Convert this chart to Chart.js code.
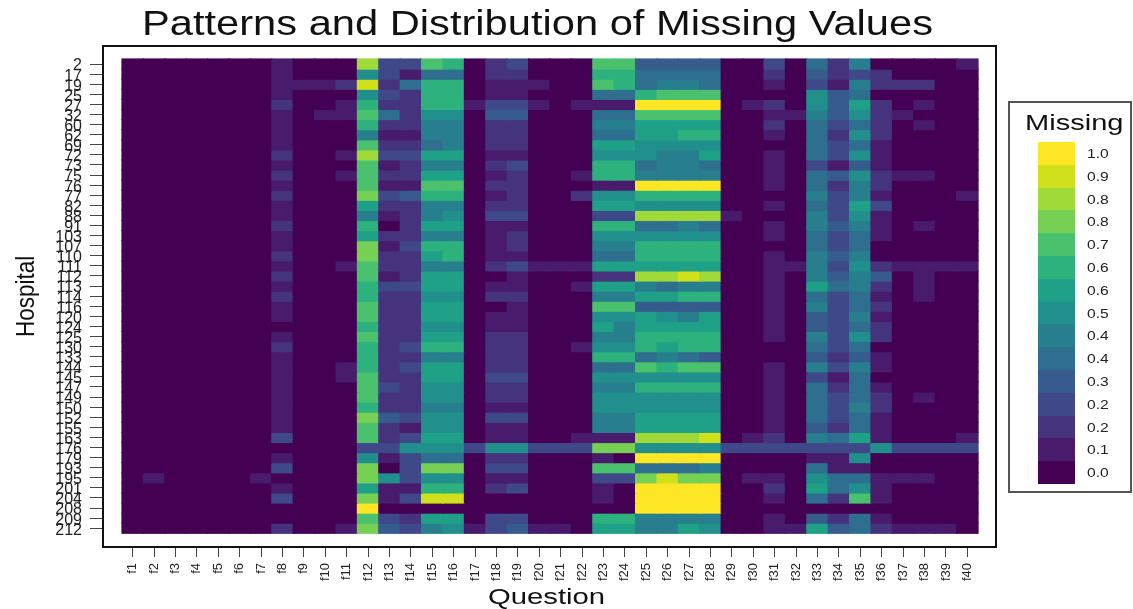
<!DOCTYPE html>
<html>
<head>
<meta charset="utf-8">
<script src="https://cdn.jsdelivr.net/npm/chart.js@4/dist/chart.umd.min.js"></script>
<style>
  body { margin: 0; background: #fff; font-family: "Liberation Sans", Arial, sans-serif; color: #111; }
  #wrap { position: relative; width: 1133px; height: 609px; overflow: hidden; }
  canvas { position: absolute; left: 0; top: 0; }
  .txt { position: absolute; white-space: nowrap; line-height: 1; }
  #title { left: 142px; top: 5px; font-size: 35px; transform-origin: left top; transform: scaleX(1.19); }
  #xname { left: 488px; top: 586px; font-size: 22px; transform-origin: left top; transform: scaleX(1.33); }
  #yname { left: 13px; top: 337px; font-size: 25px; transform-origin: left top; transform: rotate(-90deg) scaleX(0.9); }
  #legend { position: absolute; left: 1008px; top: 101px; width: 120px; height: 388px; border: 2px solid #555; }
  #legendTitle { left: 15px; top: 9px; font-size: 22px; transform-origin: left top; transform: scaleX(1.32); }
  .swatch { position: absolute; left: 28px; width: 37px; }
  .lab { position: absolute; left: 77px; font-size: 13px; line-height: 1; color: #222; transform-origin: left top; transform: scaleX(1.2); }
</style>
</head>
<body>
<div id="wrap">
  <canvas id="heat" width="1133" height="609"></canvas>
  <div class="txt" id="title">Patterns and Distribution of Missing Values</div>
  <div class="txt" id="xname">Question</div>
  <div class="txt" id="yname">Hospital</div>
  <div id="legend"><div class="txt" id="legendTitle">Missing</div></div>
</div>
<script>
let questions = [];
for (let i = 1; i <= 40; i++) questions.push('f' + i);

let hospitals = [2,17,19,25,27,32,60,62,69,72,73,75,76,77,82,88,91,103,107,110,111,112,113,114,116,120,124,125,130,133,144,145,147,149,150,152,155,163,176,179,193,195,201,204,208,209,212];

// colour steps of the legend, 0 = none missing, 14 = all missing
let stepColors = ['#440154','#481B6D','#46337E','#3F4889','#365C8D','#2E6E8E','#277F8E','#21908C','#1FA187','#2DB27D','#4AC16D','#75D054','#A0DA39','#D0E11C','#FDE725'];
let legendLabels = ['0.0','0.1','0.2','0.2','0.3','0.4','0.4','0.5','0.6','0.6','0.7','0.8','0.8','0.9','1.0'];

// one row per hospital, one number per question f1..f40 (legend step)
let missing = [
  [0,0,0,0,0,0,0, 1,0,0,0, 12, 3,3, 10,9, 0, 2,3, 0,0,0, 10,10, 4,4,4,4, 0,0,3,0, 5,2,6,0, 0,0,0,1],
  [0,0,0,0,0,0,0, 1,0,0,0, 7, 3,1, 5,5, 0, 2,2, 0,0,0, 9,9, 5,5,5,5, 0,0,2,0, 4,2,3,2, 0,0,0,0],
  [0,0,0,0,0,0,0, 1,1,1,2, 13, 2,5, 9,9, 0, 1,1, 1,0,0, 10,9, 5,6,6,5, 0,0,1,0, 3,1,6,2, 2,2,0,0],
  [0,0,0,0,0,0,0, 1,0,0,0, 7, 3,2, 9,9, 0, 1,1, 0,0,0, 5,5, 9,10,10,10, 0,0,0,0, 7,4,5,0, 0,0,0,0],
  [0,0,0,0,0,0,0, 2,0,0,1, 9, 2,2, 9,9, 1, 3,3, 1,0,1, 1,1, 14,14,14,14, 0,1,2,0, 7,4,8,2, 0,1,0,0],
  [0,0,0,0,0,0,0, 1,0,1,1, 10, 5,2, 7,7, 0, 4,4, 0,0,0, 5,5, 10,10,10,10, 0,0,1,1, 6,4,7,2, 1,0,0,0],
  [0,0,0,0,0,0,0, 1,0,0,0, 9, 2,2, 6,6, 0, 2,2, 0,0,0, 6,6, 8,8,8,8, 0,0,2,0, 5,3,5,2, 0,1,0,0],
  [0,0,0,0,0,0,0, 1,0,0,0, 6, 1,1, 6,6, 0, 2,2, 0,0,0, 5,5, 8,8,9,9, 0,0,1,0, 5,2,7,2, 0,0,0,0],
  [0,0,0,0,0,0,0, 1,0,0,0, 10, 2,2, 5,6, 0, 2,2, 0,0,0, 8,8, 7,7,7,7, 0,0,0,0, 5,3,5,1, 0,0,0,0],
  [0,0,0,0,0,0,0, 2,0,0,1, 12, 3,3, 8,8, 0, 1,1, 0,0,0, 7,7, 7,6,6,8, 0,0,1,0, 5,3,7,1, 0,0,0,0],
  [0,0,0,0,0,0,0, 1,0,0,0, 10, 1,2, 6,6, 0, 2,3, 0,0,0, 9,9, 5,6,6,5, 0,0,1,0, 3,1,4,1, 0,0,0,0],
  [0,0,0,0,0,0,0, 2,0,0,1, 10, 2,2, 8,8, 0, 1,2, 0,0,1, 9,9, 6,6,6,6, 0,0,1,0, 5,4,7,2, 1,1,0,0],
  [0,0,0,0,0,0,0, 1,0,0,0, 10, 1,1, 10,10, 0, 2,2, 0,0,0, 1,1, 14,14,14,14, 0,0,1,0, 5,2,6,2, 0,0,0,0],
  [0,0,0,0,0,0,0, 2,0,0,0, 11, 3,4, 9,9, 0, 1,2, 0,0,2, 7,7, 9,9,9,9, 0,0,0,0, 6,3,6,1, 0,0,0,1],
  [0,0,0,0,0,0,0, 1,0,0,0, 8, 2,2, 6,6, 0, 2,2, 0,0,0, 8,8, 7,7,7,7, 0,0,1,0, 5,3,8,3, 0,0,0,0],
  [0,0,0,0,0,0,0, 1,0,0,0, 6, 1,2, 6,7, 0, 3,3, 0,0,0, 3,3, 12,12,12,12, 1,0,0,0, 6,3,7,1, 0,0,0,0],
  [0,0,0,0,0,0,0, 2,0,0,0, 9, 0,2, 8,8, 0, 1,1, 0,0,0, 9,9, 5,5,6,5, 0,0,1,0, 6,4,6,1, 0,1,0,0],
  [0,0,0,0,0,0,0, 1,0,0,0, 8, 2,2, 6,6, 0, 1,2, 0,0,0, 7,7, 7,7,7,7, 0,0,1,0, 5,3,5,1, 0,0,0,0],
  [0,0,0,0,0,0,0, 1,0,0,0, 11, 1,3, 9,9, 0, 1,2, 0,0,0, 6,6, 9,9,9,9, 0,0,0,0, 5,3,5,0, 0,0,0,0],
  [0,0,0,0,0,0,0, 2,0,0,0, 11, 2,2, 8,9, 0, 1,1, 0,0,0, 5,5, 9,9,9,9, 0,0,1,0, 6,4,6,0, 0,0,0,0],
  [0,0,0,0,0,0,0, 1,0,0,1, 10, 2,2, 6,6, 0, 2,3, 1,1,1, 8,8, 8,8,8,8, 0,0,1,1, 6,3,7,2, 1,1,1,1],
  [0,0,0,0,0,0,0, 2,0,0,0, 10, 1,2, 8,8, 0, 0,1, 0,0,0, 2,2, 12,12,13,12, 0,0,1,0, 6,4,6,4, 0,1,0,0],
  [0,0,0,0,0,0,0, 1,0,0,0, 9, 3,3, 8,8, 0, 1,1, 0,0,1, 8,8, 6,5,6,6, 0,0,1,0, 8,5,6,2, 0,1,0,0],
  [0,0,0,0,0,0,0, 2,0,0,0, 9, 2,2, 7,7, 0, 2,2, 0,0,0, 6,6, 8,8,9,9, 0,0,1,0, 5,3,5,1, 0,1,0,0],
  [0,0,0,0,0,0,0, 1,0,0,0, 10, 2,2, 8,8, 0, 0,1, 0,0,0, 10,10, 4,4,4,4, 0,0,1,0, 6,3,5,2, 0,0,0,0],
  [0,0,0,0,0,0,0, 1,0,0,0, 10, 2,2, 8,8, 0, 1,1, 0,0,0, 7,7, 8,7,6,8, 0,0,1,0, 4,3,6,1, 0,0,0,0],
  [0,0,0,0,0,0,0, 0,0,0,0, 9, 2,2, 7,7, 0, 1,1, 0,0,0, 8,6, 8,8,8,8, 0,0,1,0, 4,3,5,2, 0,0,0,0],
  [0,0,0,0,0,0,0, 1,0,0,0, 10, 2,2, 8,8, 0, 2,2, 0,0,0, 6,6, 9,9,9,9, 0,0,1,0, 6,3,7,2, 0,0,0,0],
  [0,0,0,0,0,0,0, 2,0,0,0, 9, 2,3, 9,9, 0, 2,2, 0,0,1, 7,7, 9,8,9,9, 0,0,0,0, 5,3,5,0, 0,0,0,0],
  [0,0,0,0,0,0,0, 1,0,0,0, 9, 2,2, 6,6, 0, 2,2, 0,0,0, 9,9, 5,6,5,4, 0,0,0,0, 4,2,4,1, 0,0,0,0],
  [0,0,0,0,0,0,0, 1,0,0,1, 9, 2,3, 8,8, 0, 2,2, 0,0,0, 5,5, 10,9,10,10, 0,0,1,0, 6,3,6,1, 0,0,0,0],
  [0,0,0,0,0,0,0, 1,0,0,1, 10, 2,2, 8,8, 0, 3,3, 0,0,0, 7,7, 7,7,7,7, 0,0,1,0, 3,1,5,0, 0,0,0,0],
  [0,0,0,0,0,0,0, 1,0,0,0, 10, 3,2, 7,7, 0, 2,2, 0,0,0, 6,6, 9,9,9,9, 0,0,1,0, 5,2,5,1, 0,0,0,0],
  [0,0,0,0,0,0,0, 1,0,0,0, 10, 2,2, 7,7, 0, 2,2, 0,0,0, 7,7, 7,7,7,7, 0,0,1,0, 5,3,5,2, 0,1,0,0],
  [0,0,0,0,0,0,0, 1,0,0,0, 9, 2,2, 6,6, 0, 1,1, 0,0,0, 7,7, 7,7,7,7, 0,0,1,0, 5,3,6,2, 0,0,0,0],
  [0,0,0,0,0,0,0, 1,0,0,0, 11, 4,3, 7,7, 0, 3,3, 0,0,0, 6,6, 8,8,8,8, 0,0,1,0, 5,3,5,1, 0,0,0,0],
  [0,0,0,0,0,0,0, 1,0,0,0, 10, 2,1, 7,7, 0, 1,1, 0,0,0, 6,6, 8,8,8,8, 0,0,1,0, 4,2,5,1, 0,0,0,0],
  [0,0,0,0,0,0,0, 3,0,0,0, 10, 2,3, 8,8, 0, 1,1, 0,0,1, 1,1, 12,12,12,13, 0,1,2,0, 6,5,8,1, 0,0,0,1],
  [0,0,0,0,0,0,0, 0,0,0,0, 3, 3,7, 7,7, 3, 7,7, 3,3,3, 11,11, 7,7,7,7, 3,3,3,3, 3,3,3,7, 3,3,3,3],
  [0,0,0,0,0,0,0, 1,0,0,0, 7, 1,3, 5,5, 0, 2,2, 0,0,0, 1,0, 14,14,14,14, 0,0,0,0, 1,1,7,0, 0,0,0,0],
  [0,0,0,0,0,0,0, 3,0,0,0, 11, 0,3, 11,11, 0, 3,3, 0,0,0, 10,10, 5,5,5,6, 0,0,0,0, 5,1,1,0, 0,0,0,0],
  [0,1,0,0,0,0,1, 0,0,0,0, 11, 7,3, 7,7, 0, 1,1, 0,0,0, 3,3, 11,13,11,11, 0,1,1,0, 7,5,5,1, 1,1,0,0],
  [0,0,0,0,0,0,0, 1,0,0,0, 8, 1,1, 9,9, 0, 2,3, 0,0,0, 1,0, 14,14,14,14, 0,0,2,0, 8,5,7,1, 0,0,0,0],
  [0,0,0,0,0,0,0, 3,0,0,0, 11, 1,3, 13,13, 0, 0,0, 0,0,0, 1,0, 14,14,14,14, 0,0,1,0, 5,2,10,1, 0,0,0,0],
  [0,0,0,0,0,0,0, 0,0,0,0, 14, 0,0, 0,0, 0, 0,0, 0,0,0, 0,0, 14,14,14,14, 0,0,0,0, 0,0,0,0, 0,0,0,0],
  [0,0,0,0,0,0,0, 0,0,0,0, 10, 3,2, 8,8, 0, 3,3, 0,0,0, 9,9, 6,6,6,6, 0,0,1,0, 4,2,5,1, 0,0,0,0],
  [0,0,0,0,0,0,0, 2,0,0,1, 11, 4,3, 6,7, 1, 3,4, 1,1,0, 8,8, 6,6,8,7, 0,0,1,1, 8,4,5,2, 1,1,1,0]
];

// the black box round the panel
const panelBox = {
  id: 'panelBox',
  afterDraw(chart) {
    let a = chart.chartArea;
    let ctx = chart.ctx;
    ctx.save();
    ctx.strokeStyle = '#111';
    ctx.lineWidth = 2;
    ctx.strokeRect(a.left, a.top, a.right - a.left, a.bottom - a.top);
    ctx.restore();
  }
};

let datasets = [];
for (let r = 0; r < hospitals.length; r++) {
  datasets.push({
    label: String(hospitals[r]),
    data: questions.map((q, c) => ({ x: c + 1, y: 1 })),
    backgroundColor: missing[r].map(step => stepColors[step]),
    barPercentage: 1,
    categoryPercentage: 1,
    borderWidth: 0,
    inflateAmount: 0.6
  });
}

new Chart(document.getElementById('heat').getContext('2d'), {
  type: 'bar',
  data: { datasets: datasets },
  plugins: [panelBox],
  options: {
    responsive: false,
    animation: false,
    layout: { padding: { top: 46, right: 137, left: 0, bottom: 0 } },
    plugins: { legend: { display: false }, tooltip: { enabled: false } },
    scales: {
      x: {
        type: 'linear',
        stacked: true,
        offset: false,
        min: -0.388,
        max: 41.34,
        afterFit: s => { s.height = 62; },
        afterBuildTicks: s => { s.ticks = questions.map((q, i) => ({ value: i + 1 })); },
        grid: { offset: false, drawOnChartArea: false, drawTicks: true, tickLength: 10, color: '#444' },
        border: { display: false },
        ticks: {
          autoSkip: false,
          minRotation: 90,
          maxRotation: 90,
          padding: 6,
          color: '#222',
          font: { family: 'Liberation Sans', size: 13 },
          callback: v => questions[v - 1]
        }
      },
      y: {
        type: 'linear',
        stacked: true,
        reverse: true,
        min: -1.288,
        max: 48.36,
        afterFit: s => { s.width = 103; },
        afterBuildTicks: s => { s.ticks = hospitals.map((h, i) => ({ value: i + 0.5 })); },
        grid: { drawOnChartArea: false, drawTicks: true, tickLength: 13, color: '#444' },
        border: { display: false },
        ticks: {
          autoSkip: false,
          padding: 8,
          labelOffset: 2,
          color: '#222',
          font: { family: 'Liberation Sans', size: 16 },
          callback: v => hospitals[v - 0.5]
        }
      }
    }
  }
});

// legend, top swatch is the highest step
let legendBox = document.getElementById('legend');
for (let s = stepColors.length - 1; s >= 0; s--) {
  let pos = stepColors.length - 1 - s;
  let sw = document.createElement('div');
  sw.className = 'swatch';
  sw.style.top = (39 + pos * 22.8) + 'px';
  sw.style.height = '23px';
  sw.style.background = stepColors[s];
  legendBox.appendChild(sw);
  let lab = document.createElement('div');
  lab.className = 'lab';
  lab.style.top = (44 + pos * 22.8) + 'px';
  lab.textContent = legendLabels[s];
  legendBox.appendChild(lab);
}
</script>
</body>
</html>
